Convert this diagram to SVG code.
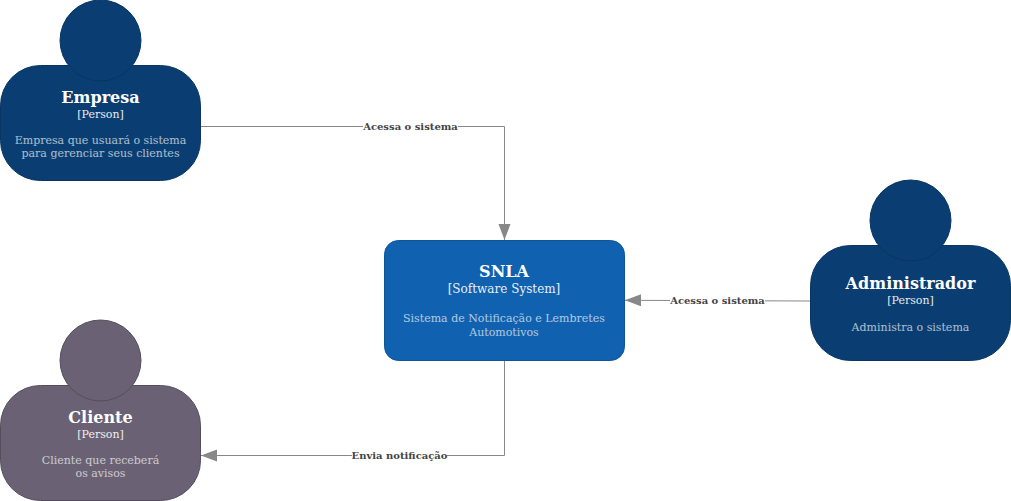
<svg xmlns="http://www.w3.org/2000/svg" width="1011" height="501" viewBox="0 0 1011 501">
<style>
text{font-family:"DejaVu Serif",serif;text-anchor:middle}
.t{font-size:16px;font-weight:bold;fill:#fff}
.k{font-size:12px;fill:#fff;opacity:.9}
.p{font-size:11px;fill:#fff;opacity:.9}
.d{font-size:11px;fill:#fff;opacity:.66}
.l{font-size:10px;font-weight:bold;fill:#444}
.blue{fill:#0a3e72;stroke:#073662}
.grey{fill:#6a6274;stroke:#544e5c}
.sys{fill:#1061b0;stroke:#0d5499}
.c{fill:none;stroke:#888;stroke-width:1}
.bg{fill:#fff}
</style>
<defs>
<marker id="arrow" markerUnits="userSpaceOnUse" markerWidth="16" markerHeight="16" refX="16" refY="8" orient="auto"><path d="M0 2L16 8L0 14Z" fill="#888"/></marker>
</defs>
<rect width="1011" height="501" fill="#fff"/>
<g id="connectors">
<path class="c" marker-end="url(#arrow)" d="M201 126.500H504.500V240"/>
<path class="c" marker-end="url(#arrow)" d="M810 301L625 300.300"/>
<path class="c" marker-end="url(#arrow)" d="M504.500 360V455.500H201"/>
<rect class="bg" x="363" y="120" width="95" height="13"/>
<rect class="bg" x="670" y="294" width="95" height="13"/>
<rect class="bg" x="352" y="449" width="95" height="13"/>
<text class="l" x="410.500" y="130">Acessa o sistema</text>
<text class="l" x="717.500" y="304">Acessa o sistema</text>
<text class="l" x="399.500" y="459">Envia notificação</text>
</g>
<g id="empresa">
<rect class="blue" x="0.500" y="65.500" width="200" height="115" rx="40"/>
<circle class="blue" cx="100.500" cy="40.500" r="40.500"/>
<text class="t" x="100.500" y="103">Empresa</text>
<text class="p" x="100.500" y="118">[Person]</text>
<text class="d" x="100.500" y="144">Empresa que usuará o sistema</text>
<text class="d" x="100.500" y="157">para gerenciar seus clientes</text>
</g>
<g id="snla">
<rect class="sys" x="384.500" y="240.500" width="240" height="120" rx="14"/>
<text class="t" x="504" y="277">SNLA</text>
<text class="k" x="504" y="293">[Software System]</text>
<text class="d" x="504" y="322">Sistema de Notificação e Lembretes</text>
<text class="d" x="504" y="336">Automotivos</text>
</g>
<g id="administrador">
<rect class="blue" x="810.500" y="245.500" width="200" height="115" rx="40"/>
<circle class="blue" cx="910.500" cy="220.500" r="40.500"/>
<text class="t" x="910.500" y="289">Administrador</text>
<text class="p" x="910.500" y="304">[Person]</text>
<text class="d" x="910.500" y="331">Administra o sistema</text>
</g>
<g id="cliente">
<rect class="grey" x="0.500" y="385.500" width="200" height="115" rx="40"/>
<circle class="grey" cx="100.500" cy="360.500" r="40.500"/>
<text class="t" x="100.500" y="423">Cliente</text>
<text class="p" x="100.500" y="438">[Person]</text>
<text class="d" x="100.500" y="464">Cliente que receberá</text>
<text class="d" x="100.500" y="477">os avisos</text>
</g>
</svg>
